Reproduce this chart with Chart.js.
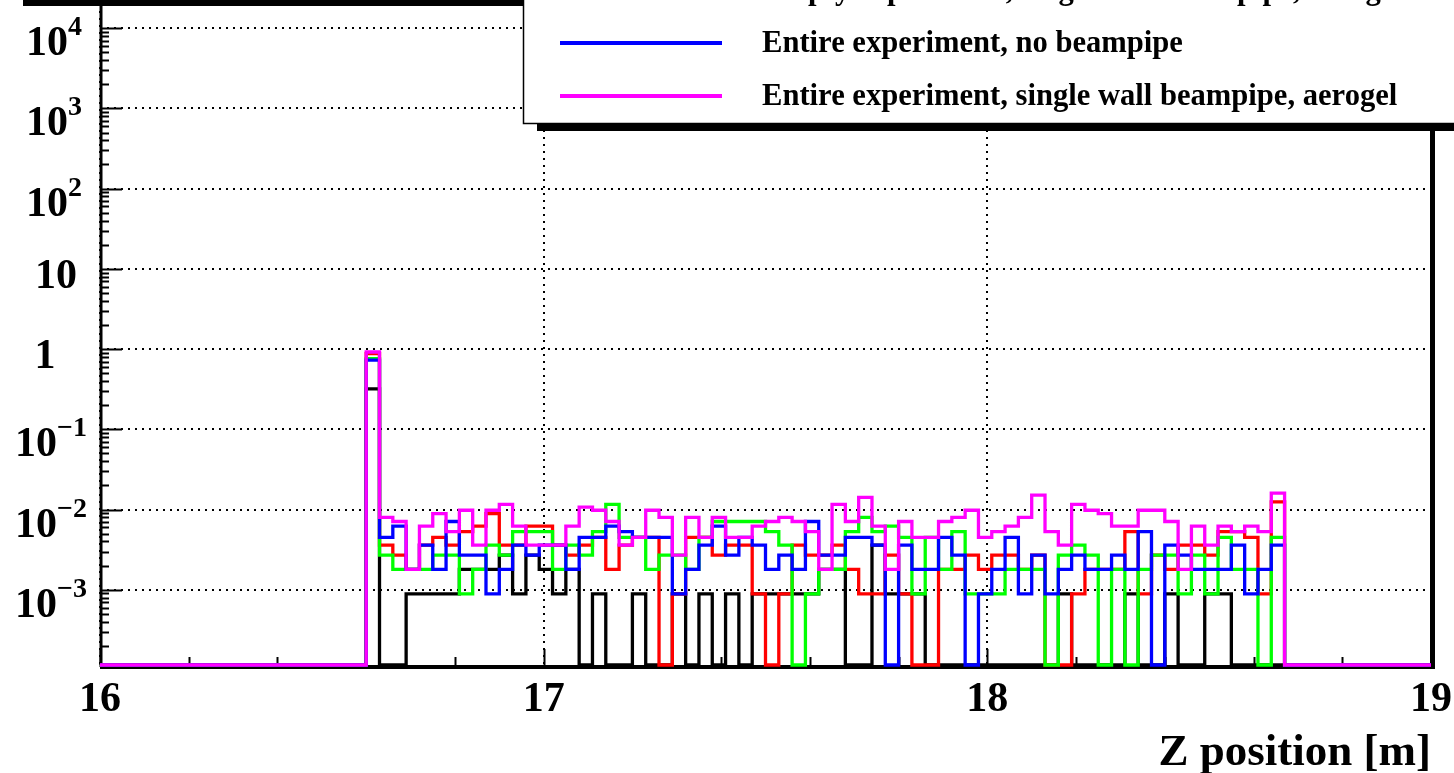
<!DOCTYPE html>
<html>
<head>
<meta charset="utf-8">
<script src="https://cdn.jsdelivr.net/npm/chart.js@4.4.1/dist/chart.umd.min.js"></script>
<style>
html,body{margin:0;padding:0;background:#fff;}
#wrap{width:1454px;height:773px;position:relative;overflow:hidden;}
canvas{display:block;}
</style>
</head>
<body>
<div id="wrap"><canvas id="c" width="1454" height="773"></canvas></div>
<script>
// ---- axis definition ----
const X_MIN = 16, X_MAX = 19, BIN_WIDTH = 0.03;   // 100 bins of 3 cm
const X_TICKS = [16, 17, 18, 19];
const Y_MIN = 1.155e-4, Y_MAX = 2e4;
const Y_TICK_EXPONENTS = [-3, -2, -1, 0, 1, 2, 3, 4];
const X_TITLE = 'Z position [m]';

// ---- legend labels (top to bottom) ----
const LABELS = [
  'Empty experiment',
  'Empty experiment, no beampipe',
  'Empty experiment, single wall beampipe, aerogel',
  'Entire experiment, no beampipe',
  'Entire experiment, single wall beampipe, aerogel'
];
const COLORS = ['#000000', '#ff0000', '#00ff00', '#0000ff', '#ff00ff'];

// ---- bin contents, bins 0..99 (z = 16.00 ... 18.97) ----
const blackValues = [
  0,0,0,0,0,0,0,0,0,0,
  0,0,0,0,0,0,0,0,0,0,
  0.32,0,0,8.9e-4,8.9e-4,8.9e-4,8.9e-4,1.8e-3,1.8e-3,1.8e-3,
  2.7e-3,8.9e-4,2.7e-3,1.8e-3,8.9e-4,1.8e-3,0,8.9e-4,0,0,
  8.9e-4,0,0,8.9e-4,0,8.9e-4,0,8.9e-4,0,8.9e-4,
  8.9e-4,8.9e-4,8.9e-4,8.9e-4,1.8e-3,1.8e-3,0,0,3.6e-3,8.9e-4,
  8.9e-4,8.9e-4,0,0,0,0,0,0,0,0,
  0,0,8.9e-4,0,0,0,0,8.9e-4,0,0,
  8.9e-4,0,0,8.9e-4,8.9e-4,0,0,0,0,0,
  0,0,0,0,0,0,0,0,0,0
];
const redValues = [
  0,0,0,0,0,0,0,0,0,0,
  0,0,0,0,0,0,0,0,0,0,
  0.88,3.6e-3,2.7e-3,1.8e-3,3.6e-3,4.5e-3,3.6e-3,5.3e-3,6.2e-3,8.9e-3,
  3.6e-3,3.6e-3,6.2e-3,6.2e-3,3.6e-3,2.7e-3,3.6e-3,4.5e-3,1.8e-3,3.6e-3,
  4.5e-3,4.5e-3,0,8.9e-4,4.5e-3,4.5e-3,2.7e-3,3.6e-3,3.6e-3,8.9e-4,
  0,8.9e-4,3.6e-3,2.7e-3,2.7e-3,3.6e-3,1.8e-3,8.9e-4,8.9e-4,2.7e-3,
  8.9e-4,0,0,1.8e-3,1.8e-3,2.7e-3,1.8e-3,2.7e-3,2.7e-3,1.8e-3,
  2.7e-3,0,0,8.9e-4,1.8e-3,1.8e-3,1.8e-3,5.3e-3,8.9e-4,2.7e-3,
  1.8e-3,3.6e-3,3.6e-3,2.7e-3,5.3e-3,5.3e-3,4.5e-3,8.9e-4,1.25e-2,0,
  0,0,0,0,0,0,0,0,0,0
];
const greenValues = [
  0,0,0,0,0,0,0,0,0,0,
  0,0,0,0,0,0,0,0,0,0,
  0.76,2.7e-3,1.8e-3,1.8e-3,1.8e-3,2.7e-3,2.7e-3,8.9e-4,1.8e-3,3.6e-3,
  2.7e-3,5.3e-3,5.3e-3,5.3e-3,1.8e-3,3.6e-3,2.7e-3,5.3e-3,1.16e-2,4.5e-3,
  4.5e-3,1.8e-3,2.7e-3,2.7e-3,1.8e-3,4.5e-3,7.1e-3,7.1e-3,7.1e-3,7.1e-3,
  5.3e-3,3.6e-3,0,8.9e-4,1.8e-3,1.8e-3,5.3e-3,8.0e-3,5.3e-3,6.2e-3,
  4.5e-3,8.9e-4,4.5e-3,1.8e-3,5.3e-3,8.9e-4,8.9e-4,8.9e-4,1.8e-3,1.8e-3,
  1.8e-3,0,2.7e-3,3.6e-3,2.7e-3,0,1.8e-3,0,1.8e-3,2.7e-3,
  2.7e-3,8.9e-4,2.7e-3,8.9e-4,4.5e-3,1.8e-3,1.8e-3,0,4.5e-3,0,
  0,0,0,0,0,0,0,0,0,0
];
const blueValues = [
  0,0,0,0,0,0,0,0,0,0,
  0,0,0,0,0,0,0,0,0,0,
  0.73,4.5e-3,6.2e-3,1.8e-3,3.6e-3,1.8e-3,7.1e-3,2.7e-3,2.7e-3,8.9e-4,
  1.8e-3,3.6e-3,2.7e-3,3.6e-3,3.6e-3,1.8e-3,4.5e-3,4.5e-3,6.2e-3,5.3e-3,
  4.5e-3,4.5e-3,4.5e-3,8.9e-4,1.8e-3,3.6e-3,6.2e-3,2.7e-3,4.5e-3,3.6e-3,
  1.8e-3,2.7e-3,1.8e-3,7.1e-3,2.7e-3,2.7e-3,4.5e-3,4.5e-3,3.6e-3,0,
  3.6e-3,1.8e-3,1.8e-3,4.5e-3,2.7e-3,0,8.9e-4,1.8e-3,4.5e-3,8.9e-4,
  2.7e-3,8.9e-4,1.8e-3,2.7e-3,1.8e-3,1.8e-3,2.7e-3,1.8e-3,5.3e-3,0,
  3.6e-3,2.7e-3,1.8e-3,1.8e-3,1.8e-3,3.6e-3,8.9e-4,1.8e-3,3.6e-3,0,
  0,0,0,0,0,0,0,0,0,0
];
const magentaValues = [
  0,0,0,0,0,0,0,0,0,0,
  0,0,0,0,0,0,0,0,0,0,
  0.92,8.0e-3,7.1e-3,1.8e-3,6.2e-3,8.9e-3,5.3e-3,9.8e-3,3.6e-3,9.8e-3,
  1.16e-2,6.2e-3,3.6e-3,3.6e-3,3.6e-3,6.2e-3,1.07e-2,9.8e-3,7.1e-3,3.6e-3,
  4.5e-3,9.8e-3,8.0e-3,2.7e-3,8.0e-3,4.5e-3,8.0e-3,4.5e-3,4.5e-3,6.2e-3,
  7.1e-3,8.0e-3,7.1e-3,5.3e-3,1.8e-3,1.16e-2,7.1e-3,1.42e-2,6.2e-3,1.8e-3,
  7.1e-3,4.5e-3,4.5e-3,7.1e-3,8.0e-3,9.8e-3,4.5e-3,5.3e-3,6.2e-3,8.0e-3,
  1.51e-2,5.3e-3,3.6e-3,1.16e-2,9.8e-3,8.9e-3,6.2e-3,6.2e-3,9.8e-3,9.8e-3,
  7.1e-3,1.8e-3,6.2e-3,3.6e-3,6.2e-3,5.3e-3,6.2e-3,5.3e-3,1.6e-2,0,
  0,0,0,0,0,0,0,0,0,0
];
const SERIES = [blackValues, redValues, greenValues, blueValues, magentaValues];

// histogram -> step points at bin left edges (+ closing right edge); empty bins sit on the frame floor
function histPoints(values) {
  const pts = values.map((v, i) => ({ x: X_MIN + i * BIN_WIDTH, y: v > 0 ? v : Y_MIN }));
  const last = pts[pts.length - 1];
  pts.push({ x: X_MAX, y: last.y });
  return pts;
}

const datasets = SERIES.map((vals, i) => ({
  label: LABELS[i],
  data: histPoints(vals),
  borderColor: COLORS[i],
  backgroundColor: COLORS[i],
  borderWidth: 3.3,
  stepped: 'before',
  pointRadius: 0,
  fill: false,
  clip: false,
  order: SERIES.length - 1 - i   // magenta on top, black at the bottom
}));

const FONT = 'Liberation Serif';

const rootDecor = {
  id: 'rootDecor',
  beforeDraw(chart) {
    const ctx = chart.ctx;
    ctx.save();
    ctx.fillStyle = '#fff';
    ctx.fillRect(0, 0, chart.width, chart.height);
    ctx.restore();
  },
  beforeDatasetsDraw(chart) {
    const ctx = chart.ctx, a = chart.chartArea;
    const xs = chart.scales.x, ys = chart.scales.y;
    ctx.save();
    ctx.strokeStyle = '#000';
    // y ticks (inside the frame)
    ctx.lineWidth = 2;
    for (let e = -4; e <= 4; e++) {
      for (let m = 1; m <= 9; m++) {
        const v = m * Math.pow(10, e);
        if (v < Y_MIN || v > Y_MAX) continue;
        const y = Math.round(ys.getPixelForValue(v)) + 0.5;
        const len = m === 1 ? 22 : 9;
        ctx.beginPath(); ctx.moveTo(a.left, y); ctx.lineTo(a.left + len, y); ctx.stroke();
      }
    }
    // x ticks (inside the frame)
    for (let k = 0; k <= 15; k++) {
      const v = X_MIN + k * 0.2;
      const x = Math.round(xs.getPixelForValue(v)) + 0.5;
      const len = (k % 5 === 0) ? 16 : 8;
      ctx.beginPath(); ctx.moveTo(x, a.bottom); ctx.lineTo(x, a.bottom - len); ctx.stroke();
    }
    // frame
    ctx.lineWidth = 3;
    ctx.beginPath(); ctx.moveTo(a.left + 1, a.top); ctx.lineTo(a.left + 1, a.bottom + 2); ctx.stroke();
    ctx.lineWidth = 4;
    ctx.beginPath(); ctx.moveTo(a.left, a.bottom + 2); ctx.lineTo(a.right + 2, a.bottom + 2); ctx.stroke();
    ctx.lineWidth = 5;
    ctx.beginPath(); ctx.moveTo(a.right + 1.5, a.top); ctx.lineTo(a.right + 1.5, a.bottom + 4); ctx.stroke();
    ctx.restore();
  },
  afterDraw(chart) {
    const ctx = chart.ctx;
    const ys = chart.scales.y;
    ctx.save();
    ctx.fillStyle = '#000';
    // y labels with superscript exponents, centred under the axis label column
    ctx.textBaseline = 'alphabetic';
    const cx = 51;
    Y_TICK_EXPONENTS.forEach(e => {
      const y = ys.getPixelForValue(Math.pow(10, e));
      ctx.textAlign = 'left';
      if (e === 0 || e === 1) {
        const t = e === 0 ? '1' : '10';
        ctx.font = `bold 42px "${FONT}"`;
        const w = ctx.measureText(t).width;
        ctx.fillText(t, (e === 0 ? 45 : 56) - w / 2, y + 19);
      } else {
        const exp = String(Math.abs(e));
        const expText = (e < 0 ? '\u2212' : '') + exp;
        ctx.font = `bold 28px "${FONT}"`;
        const ew = ctx.measureText(expText).width;
        ctx.font = `bold 42px "${FONT}"`;
        const bw = ctx.measureText('10').width;
        const x0 = cx - (bw + ew) / 2 + (e > 0 ? 3 : 0);
        ctx.fillText('10', x0, y + 27);
        ctx.font = `bold 28px "${FONT}"`;
        ctx.fillText(expText, x0 + bw, y + 7);
      }
    });
    // title box shadow (top-left)
    ctx.fillRect(23, 0, 520, 6);
    // legend box
    const lx = 523, lyBottom = 123;
    ctx.fillRect(lx + 14, lyBottom, chart.width, 8);
    ctx.fillStyle = '#fff';
    ctx.fillRect(lx, -10, chart.width, lyBottom + 10);
    ctx.strokeStyle = '#000';
    ctx.lineWidth = 1.5;
    ctx.strokeRect(lx + 0.5, -10, chart.width, lyBottom + 10.5);
    const rowY = [-116, -63, -10, 43, 96];
    chart.data.datasets.forEach((ds, i) => {
      const y = rowY[i];
      ctx.strokeStyle = ds.borderColor;
      ctx.lineWidth = 4;
      ctx.beginPath(); ctx.moveTo(560, y); ctx.lineTo(722, y); ctx.stroke();
      ctx.fillStyle = '#000';
      ctx.font = `bold 30.6px "${FONT}"`;
      ctx.textAlign = 'left';
      ctx.textBaseline = 'middle';
      ctx.fillText(ds.label, 762, y + 1);
    });
    ctx.restore();
  }
};

const gridOpts = { color: '#000', lineWidth: 2, drawTicks: false, borderDash: [2, 5] };

new Chart(document.getElementById('c'), {
  type: 'line',
  data: { datasets },
  options: {
    responsive: false,
    animation: false,
    devicePixelRatio: 1,
    layout: { padding: { left: 0, right: 23, top: 4, bottom: 0 } },
    plugins: { legend: { display: false }, tooltip: { enabled: false } },
    elements: { point: { radius: 0 }, line: { tension: 0 } },
    scales: {
      x: {
        type: 'linear', min: X_MIN, max: X_MAX,
        afterBuildTicks: s => { s.ticks = X_TICKS.map(v => ({ value: v })); },
        afterFit: s => { s.height = 108; s.paddingLeft = 0; s.paddingRight = 0; },
        grid: gridOpts,
        border: { display: false, dash: [2, 5] },
        ticks: { font: { family: FONT, weight: 'bold', size: 42 }, color: '#000', padding: 10, maxRotation: 0, autoSkip: false },
        title: { display: true, text: X_TITLE, align: 'end', color: '#000',
                 font: { family: FONT, weight: 'bold', size: 45 }, padding: { top: 0, bottom: -7 } }
      },
      y: {
        type: 'logarithmic', min: Y_MIN, max: Y_MAX,
        afterBuildTicks: s => { s.ticks = Y_TICK_EXPONENTS.map(e => ({ value: Math.pow(10, e) })); },
        afterFit: s => { s.width = 100; s.paddingTop = 0; s.paddingBottom = 0; },
        grid: gridOpts,
        border: { display: false, dash: [2, 5] },
        ticks: { display: false }
      }
    }
  },
  plugins: [rootDecor]
});
</script>
</body>
</html>
